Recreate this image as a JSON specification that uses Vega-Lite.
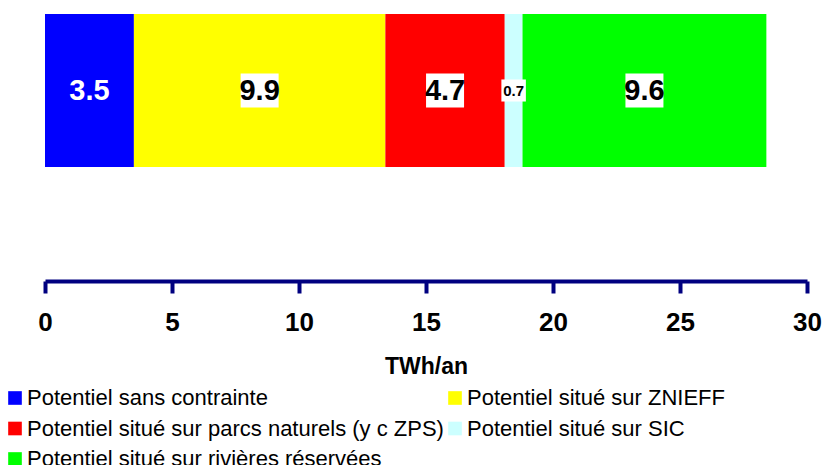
{
  "$schema": "https://vega.github.io/schema/vega-lite/v6.json",
  "width": 762,
  "height": 153,
  "autosize": {"type": "none"},
  "padding": {"left": 45, "top": 14, "right": 16, "bottom": 298},
  "data": {
    "values": [
      {"cat": "Potentiel sans contrainte", "v": 3.5, "ordre": 1, "g": "A"},
      {"cat": "Potentiel situé sur ZNIEFF", "v": 9.9, "ordre": 2, "g": "A"},
      {"cat": "Potentiel situé sur parcs naturels (y c ZPS)", "v": 4.7, "ordre": 3, "g": "A"},
      {"cat": "Potentiel situé sur SIC", "v": 0.7, "ordre": 4, "g": "A"},
      {"cat": "Potentiel situé sur rivières réservées", "v": 9.6, "ordre": 5, "g": "A"}
    ]
  },
  "transform": [
    {"stack": "v", "groupby": ["g"], "as": ["x0", "x1"], "sort": [{"field": "ordre", "order": "ascending"}]},
    {"calculate": "(datum.x0 + datum.x1) / 2", "as": "xm"}
  ],
  "encoding": {
    "y": {"field": "g", "type": "nominal", "axis": null, "scale": {"paddingInner": 0, "paddingOuter": 0}}
  },
  "layer": [
    {
      "mark": {"type": "bar"},
      "encoding": {
        "x": {
          "field": "x0", "type": "quantitative",
          "scale": {"domain": [0, 30], "nice": false},
          "axis": {
            "title": "TWh/an",
            "values": [0, 5, 10, 15, 20, 25, 30],
            "offset": 114,
            "grid": false,
            "domainColor": "#000080",
            "domainWidth": 4,
            "tickColor": "#000080",
            "tickWidth": 4,
            "tickSize": 12,
            "labelFont": "Liberation Sans",
            "labelFontWeight": "bold",
            "labelFontSize": 26,
            "labelColor": "black",
            "labelPadding": 16,
            "labelFlush": false,
            "titleFont": "Liberation Sans",
            "titleFontWeight": "bold",
            "titleFontSize": 23,
            "titleColor": "black",
            "titlePadding": 20
          }
        },
        "x2": {"field": "x1"},
        "color": {
          "field": "cat", "type": "nominal",
          "scale": {
            "domain": ["Potentiel sans contrainte", "Potentiel situé sur ZNIEFF", "Potentiel situé sur parcs naturels (y c ZPS)", "Potentiel situé sur SIC", "Potentiel situé sur rivières réservées"],
            "range": ["#0000FF", "#FFFF00", "#FF0000", "#CCFFFF", "#00FF00"]
          },
          "legend": {
            "title": null,
            "orient": "none",
            "legendX": -41,
            "legendY": 373,
            "columns": 2,
            "direction": "horizontal",
            "symbolType": "square",
            "symbolSize": 186,
            "symbolStrokeWidth": 0,
            "symbolOpacity": 1,
            "labelFont": "Liberation Sans",
            "labelFontSize": 22,
            "labelColor": "black",
            "labelOffset": 1,
            "labelLimit": 600,
            "columnPadding": 0,
            "rowPadding": 8.5
          }
        }
      }
    },
    {
      "mark": {"type": "point", "filled": true, "shape": "M-1,-0.9L1,-0.9L1,0.9L-1,0.9Z", "color": "white"},
      "encoding": {
        "x": {"field": "xm", "type": "quantitative"},
        "size": {"condition": {"test": "datum.v < 1", "value": 600}, "value": 1444},
        "opacity": {"condition": {"test": "datum.ordre === 1", "value": 0}, "value": 1}
      }
    },
    {
      "mark": {"type": "text", "font": "Liberation Sans", "fontWeight": "bold", "baseline": "middle", "align": "center"},
      "encoding": {
        "x": {"field": "xm", "type": "quantitative"},
        "text": {"field": "v", "type": "quantitative", "format": ".1f"},
        "size": {"condition": {"test": "datum.v < 1", "value": 15}, "value": 29},
        "color": {"condition": {"test": "datum.ordre === 1", "value": "white"}, "value": "black"}
      }
    }
  ],
  "config": {"view": {"stroke": null}}
}
